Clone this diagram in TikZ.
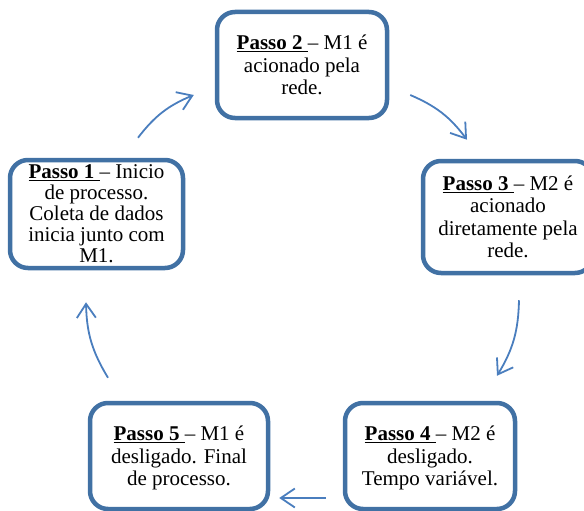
\documentclass[tikz,border=0pt]{standalone}
\usepackage{fontspec}
\setmainfont{Liberation Serif}
\usepackage{xcolor}
\usepackage{tikz}
\usetikzlibrary{calc}
\usetikzlibrary{arrows.meta}

\definecolor{azulcaixa}{RGB}{65,113,164}
\definecolor{azulseta}{RGB}{74,126,190}

\begin{document}
\begin{tikzpicture}[x=1pt,y=-1pt,
  passo/.style={draw=azulcaixa,line width=4.5pt,rounded corners=18pt,fill=white,
    align=center,inner sep=0pt,font=\fontsize{21}{22.5}\selectfont},
  fluxo/.style={azulseta,line width=1.8pt,-{Straight Barb[length=14pt,width=19pt]}}]
\useasboundingbox (0,0) rectangle (584,511);

% Passos
\node[passo,minimum width=173pt,minimum height=108pt,font=\fontsize{21}{21}\selectfont] (p1) at (96.5,214)
  {\underline{\textbf{Passo 1 }}– Inicio\\de processo.\\Coleta de dados\\inicia junto com\\M1.};
\node[passo,minimum width=170pt,minimum height=106pt] (p2) at (302,65)
  {\underline{\textbf{Passo 2 }}– M1 é\\acionado pela\\rede.};
\node[passo,minimum width=170pt,minimum height=112pt] (p3) at (508,217)
  {\underline{\textbf{Passo 3 }}– M2 é\\acionado\\diretamente pela\\rede.};
\node[passo,minimum width=170pt,minimum height=106pt,text depth=-6pt] (p4) at (430,456)
  {\underline{\textbf{Passo 4 }}– M2 é\\desligado.\\Tempo variável.};
\node[passo,minimum width=178pt,minimum height=106pt,text depth=-6pt] (p5) at (179,456)
  {\underline{\textbf{Passo 5 }}– M1 é\\desligado. Final\\de processo.};

% Setas do ciclo
\draw[fluxo] ($(p1.north)+(41.5,-20)$) to[bend left=15] ($(p2.west)+(-21,30)$);
\draw[fluxo] ($(p2.east)+(21,30)$) to[bend left=15] ($(p3.north)+(-41,-19)$);
\draw[fluxo] ($(p3.south)+(11,25)$) to[bend left=15] ($(p4.north)+(67,-25)$);
\draw[fluxo] ($(p4.west)+(-17,42)$) -- ($(p5.east)+(9,42)$);
\draw[fluxo] ($(p5.north)+(-71,-23)$) to[bend left=15] ($(p1.south)+(-10.5,32)$);
\end{tikzpicture}
\end{document}
